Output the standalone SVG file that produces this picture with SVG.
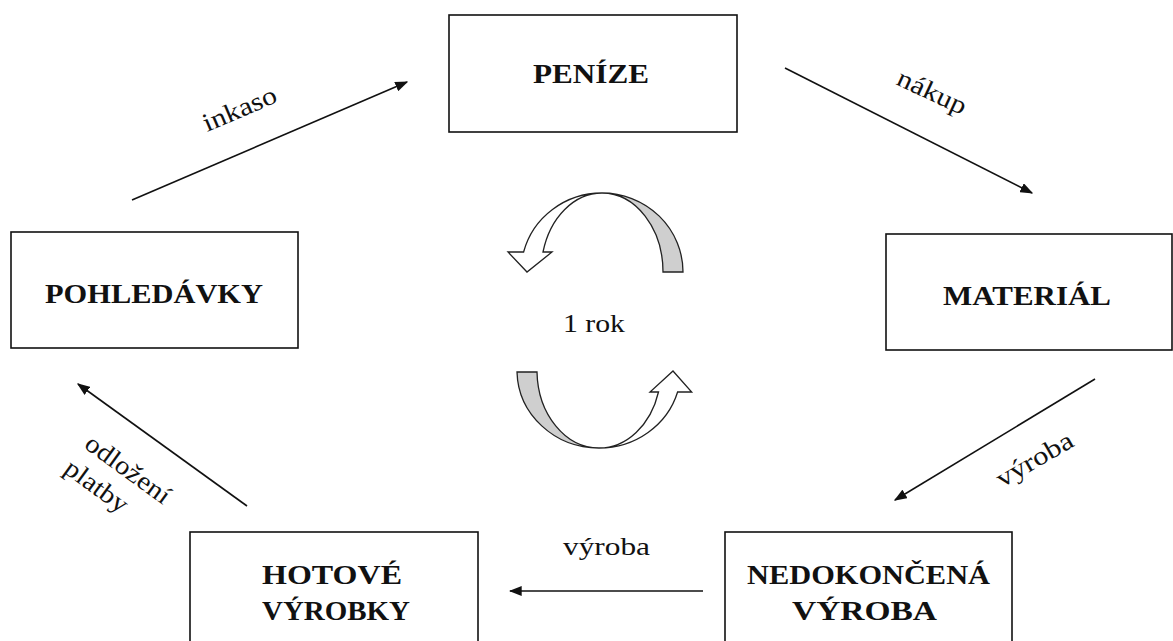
<svg xmlns="http://www.w3.org/2000/svg" width="1173" height="641" viewBox="0 0 1173 641">
<defs>
<style>
.box{fill:#fff;stroke:#111;stroke-width:1.6}
.bt{font-family:"Liberation Serif","Times New Roman",serif;font-weight:bold;font-size:28px;fill:#111}
.lt{font-family:"Liberation Serif","Times New Roman",serif;font-size:26px;fill:#111}
.con{stroke:#111;stroke-width:1.6;fill:none;marker-end:url(#ah)}
.cw{stroke:#222;stroke-width:1.3;fill:#fff}
.cg{stroke:#222;stroke-width:1.3;fill:#cfcfcf}
</style>
<marker id="ah" viewBox="0 0 10 10" refX="9" refY="5" markerWidth="13" markerHeight="10" markerUnits="userSpaceOnUse" orient="auto" preserveAspectRatio="none">
<path d="M0,0 L10,5 L0,10 Z" fill="#111"/>
</marker>
</defs>
<rect width="1173" height="641" fill="#fff"/>
<g id="connectors">
<line class="con" x1="132" y1="200" x2="407" y2="82"/>
<line class="con" x1="785" y1="68" x2="1032" y2="193"/>
<line class="con" x1="1095" y1="379" x2="895" y2="500"/>
<line class="con" x1="703" y1="591" x2="510" y2="591"/>
<line class="con" x1="247" y1="506" x2="78" y2="384"/>
<text class="lt" transform="translate(207,132) rotate(-23)" textLength="78" lengthAdjust="spacingAndGlyphs">inkaso</text>
<text class="lt" transform="translate(895,84) rotate(25)" textLength="74" lengthAdjust="spacingAndGlyphs">nákup</text>
<text class="lt" transform="translate(1002,488) rotate(-30)" textLength="85" lengthAdjust="spacingAndGlyphs">výroba</text>
<text class="lt" x="563" y="555" textLength="87" lengthAdjust="spacingAndGlyphs">výroba</text>
<g transform="translate(83,447) rotate(36)">
<text class="lt" x="0" y="0" textLength="99" lengthAdjust="spacingAndGlyphs">odložení</text>
<text class="lt" x="-2" y="32" textLength="72" lengthAdjust="spacingAndGlyphs">platby</text>
</g>
</g>
<g id="cycle">
<path class="cg" d="M683,272 A81,79 0 0 0 602,193 A61,79 0 0 1 663,272 Z"/>
<path class="cw" d="M602,193 A81,79 0 0 0 523.6,252 L508,252 L527,272 L552,252 L543,252 A61,79 0 0 1 602,193 Z"/>
<path class="cg" d="M517,372 A82,78 0 0 0 599,448 A62,78 0 0 1 537,372 Z"/>
<path class="cw" d="M599,448 A82,78 0 0 0 677.6,392 L691.7,392 L673,371 L650,392 L658.5,392 A62,78 0 0 1 599,448 Z"/>
<text class="lt" x="563" y="332" textLength="62" lengthAdjust="spacingAndGlyphs">1 rok</text>
</g>
<g id="penize">
<rect class="box" x="449" y="15" width="288" height="117"/>
<text class="bt" x="533" y="83" textLength="116" lengthAdjust="spacingAndGlyphs">PENÍZE</text>
</g>
<g id="pohledavky">
<rect class="box" x="11" y="232" width="287" height="116"/>
<text class="bt" x="45" y="303" textLength="218" lengthAdjust="spacingAndGlyphs">POHLEDÁVKY</text>
</g>
<g id="material">
<rect class="box" x="886" y="234" width="286" height="116"/>
<text class="bt" x="943" y="305" textLength="168" lengthAdjust="spacingAndGlyphs">MATERIÁL</text>
</g>
<g id="hotove">
<rect class="box" x="190" y="532" width="288" height="117"/>
<text class="bt" x="262" y="584" textLength="140" lengthAdjust="spacingAndGlyphs">HOTOVÉ</text>
<text class="bt" x="262" y="620" textLength="148" lengthAdjust="spacingAndGlyphs">VÝROBKY</text>
</g>
<g id="nedokoncena">
<rect class="box" x="725" y="532" width="287" height="117"/>
<text class="bt" x="747" y="584" textLength="243" lengthAdjust="spacingAndGlyphs">NEDOKONČENÁ</text>
<text class="bt" x="792" y="620" textLength="145" lengthAdjust="spacingAndGlyphs">VÝROBA</text>
</g>
</svg>
